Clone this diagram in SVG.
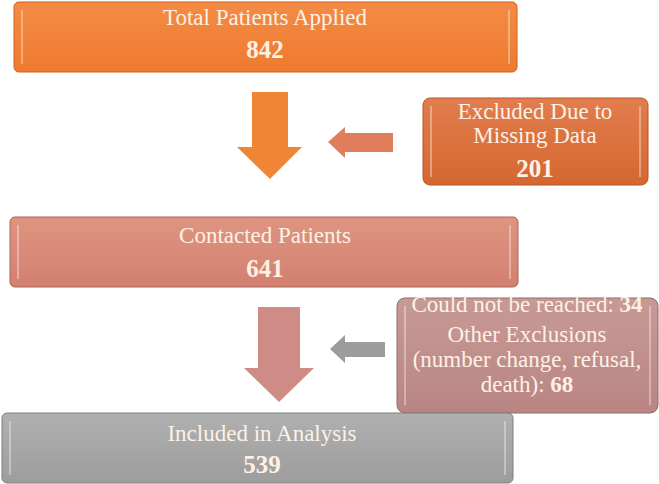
<svg xmlns="http://www.w3.org/2000/svg" width="659" height="484" viewBox="0 0 659 484">
<style>
.t{font-family:"Liberation Serif","Times New Roman",serif;fill:#FDF1E6;text-anchor:middle;font-size:23px}
.b{font-weight:bold;font-size:25px}
.bev{fill:none;stroke:#ffffff;stroke-opacity:0.35;stroke-width:2}
</style>
<defs>
<linearGradient id="gOr" x1="0" y1="0" x2="0" y2="1"><stop offset="0" stop-color="#F48B45"/><stop offset="1" stop-color="#EE7A2E"/></linearGradient>
<linearGradient id="gDor" x1="0" y1="0" x2="0" y2="1"><stop offset="0" stop-color="#E27D4E"/><stop offset="1" stop-color="#D4672F"/></linearGradient>
<linearGradient id="gSal" x1="0" y1="0" x2="0" y2="1"><stop offset="0" stop-color="#DF9580"/><stop offset="1" stop-color="#D28070"/></linearGradient>
<linearGradient id="gRose" x1="0" y1="0" x2="0" y2="1"><stop offset="0" stop-color="#C79A96"/><stop offset="1" stop-color="#B98583"/></linearGradient>
<linearGradient id="gGr" x1="0" y1="0" x2="0" y2="1"><stop offset="0" stop-color="#B0B0B0"/><stop offset="1" stop-color="#9D9D9D"/></linearGradient>
</defs>
<g id="connectors">
<polygon points="252,92 288,92 288,147 302,147 270,179 237,147 252,147" fill="#F08536"/>
<polygon points="393,133 345,133 345,127 328,142 345,158 345,152 393,152" fill="#E07D5C"/>
<polygon points="258,307 300,307 300,368 314,368 279,402 244,368 258,368" fill="#CF8B85"/>
<polygon points="385,342 345,342 345,335 330,349 345,363 345,357 385,357" fill="#9C9C9C"/>
</g>
<g id="n1">
<rect x="14" y="2" width="503" height="70" rx="5" fill="url(#gOr)" stroke="#C9631F" stroke-width="1"/>
<path class="bev" d="M22,10 V64 M509,10 V64"/>
<text class="t" x="265" y="25">Total Patients Applied</text>
<text class="t b" x="265" y="58">842</text>
</g>
<g id="n2">
<rect x="423" y="98" width="225" height="87" rx="7" fill="url(#gDor)" stroke="#B85524" stroke-width="1"/>
<path class="bev" d="M431,106 V177 M640,106 V177"/>
<text class="t" x="535" y="119">Excluded Due to</text>
<text class="t" x="535" y="143">Missing Data</text>
<text class="t b" x="535" y="177">201</text>
</g>
<g id="n3">
<rect x="10" y="217" width="508" height="70" rx="5" fill="url(#gSal)" stroke="#A86656" stroke-width="1"/>
<path class="bev" d="M18,225 V279 M510,225 V279"/>
<text class="t" x="265" y="243">Contacted Patients</text>
<text class="t b" x="265" y="277">641</text>
</g>
<g id="n4">
<rect x="397" y="298" width="261" height="115" rx="8" fill="url(#gRose)" stroke="#946A68" stroke-width="1"/>
<path class="bev" d="M405,306 V405 M650,306 V405"/>
<text class="t" x="527" y="312">Could not be reached: <tspan font-weight="bold">34</tspan></text>
<text class="t" x="527" y="342">Other Exclusions</text>
<text class="t" x="527" y="367">(number change, refusal,</text>
<text class="t" x="527" y="392">death): <tspan font-weight="bold">68</tspan></text>
</g>
<g id="n5">
<rect x="2" y="413" width="511" height="70" rx="5" fill="url(#gGr)" stroke="#7E7E7E" stroke-width="1"/>
<path class="bev" d="M10,421 V475 M505,421 V475"/>
<text class="t" x="262" y="441">Included in Analysis</text>
<text class="t b" x="262" y="473">539</text>
</g>
</svg>
